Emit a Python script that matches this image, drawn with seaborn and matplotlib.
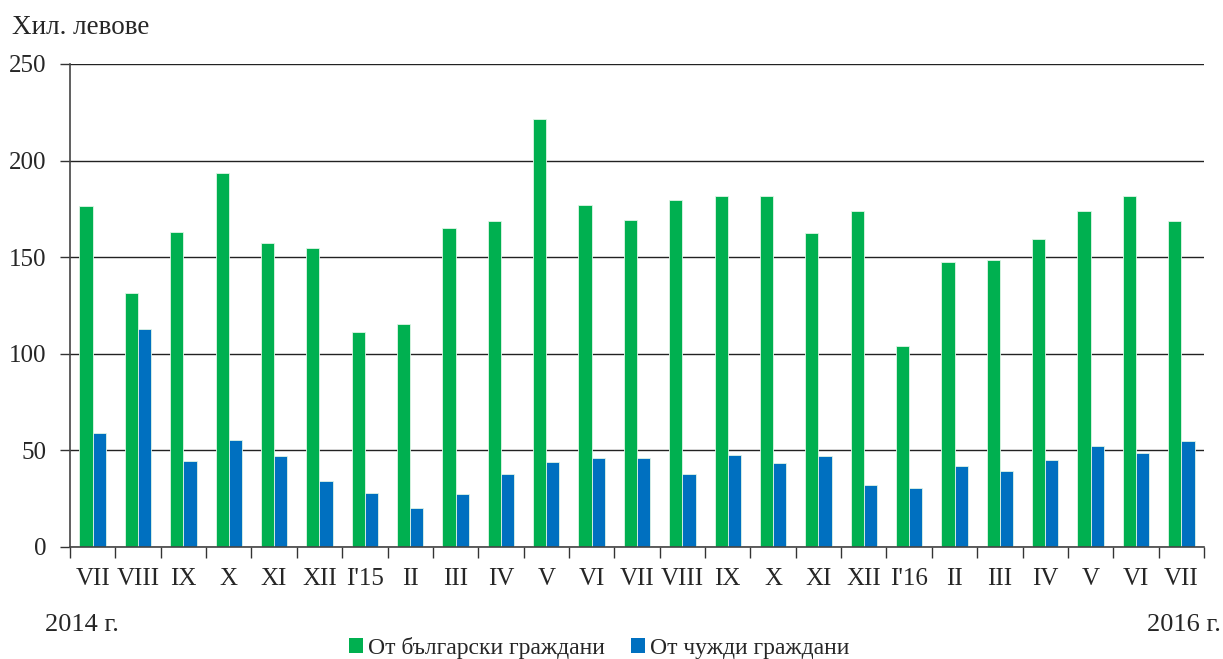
import numpy as np
import pandas as pd
import seaborn as sns
import matplotlib.pyplot as plt
from matplotlib.patches import Patch

# months from VII 2014 to VII 2016
month_labels = ['VII', 'VIII', 'IX', 'X', 'XI', 'XII', "I'15", 'II', 'III', 'IV', 'V', 'VI',
                'VII', 'VIII', 'IX', 'X', 'XI', 'XII', "I'16", 'II', 'III', 'IV', 'V', 'VI', 'VII']
bulgarian = [176.7, 131.5, 163.2, 193.8, 157.4, 154.8, 111.0, 115.6, 165.3, 168.7, 221.7, 177.2,
             169.3, 179.8, 181.4, 181.9, 162.7, 173.9, 104.2, 147.4, 148.7, 159.3, 173.9, 181.4, 168.6]
foreign = [59.2, 113.0, 44.5, 55.2, 47.3, 34.0, 28.0, 20.0, 27.3, 38.0, 43.8, 45.9,
           45.9, 38.0, 47.8, 43.2, 47.3, 31.9, 30.7, 41.9, 39.2, 45.2, 52.0, 48.5, 54.6]
series_names = ['От български граждани', 'От чужди граждани']
colors = ['#00B050', '#0070C0']

n = len(month_labels)
df = pd.DataFrame({
    'pos': list(range(n)) * 2,
    'value': bulgarian + foreign,
    'series': [series_names[0]] * n + [series_names[1]] * n,
})

sns.set_style('ticks')
plt.rcParams['font.family'] = ['Liberation Serif', 'DejaVu Serif']

fig = plt.figure(figsize=(12.23, 6.59), dpi=100)
ax = fig.add_axes([0.0572, 0.170, 0.9273, 0.733])

sns.barplot(data=df, x='pos', y='value', hue='series', hue_order=series_names,
            palette=colors, width=0.58, dodge=True, saturation=1, legend=False,
            edgecolor='#dff5e6', linewidth=0.6, ax=ax)

ax.set_ylim(0, 250)
ax.set_xlim(-0.5, n - 0.5)
ax.set_yticks([0, 50, 100, 150, 200, 250])
ax.set_xticks(range(n))
ax.set_xticklabels(month_labels)
ax.set_xticks(np.arange(-0.5, n, 1), minor=True)
ax.tick_params(axis='x', which='major', length=0, pad=15, labelsize=18)
ax.tick_params(axis='x', which='minor', length=8, width=1, color='#333333', direction='out')
ax.tick_params(axis='y', length=7, width=1, color='#333333', labelsize=18, pad=10)
ax.set_xlabel('')
ax.set_ylabel('')

ax.yaxis.grid(True, color='#222222', linewidth=1)
ax.set_axisbelow(True)
for side in ['top', 'right']:
    ax.spines[side].set_visible(False)
for side in ['left', 'bottom']:
    ax.spines[side].set_color('#444444')
    ax.spines[side].set_linewidth(1.2)

fig.text(0.010, 0.958, 'Хил. левове', fontsize=19.5, va='center', ha='left')
fig.text(0.037, 0.051, '2014 г.', fontsize=19, va='center', ha='left')
fig.text(0.998, 0.051, '2016 г.', fontsize=19, va='center', ha='right')

handles = [Patch(facecolor=c, edgecolor='none') for c in colors]
fig.legend(handles, series_names, loc='center', bbox_to_anchor=(0.49, 0.017), ncol=2,
           frameon=False, fontsize=17, handlelength=0.6, handleheight=0.6,
           handletextpad=0.2, columnspacing=1.1)

fig.savefig('out.png', dpi=100)
